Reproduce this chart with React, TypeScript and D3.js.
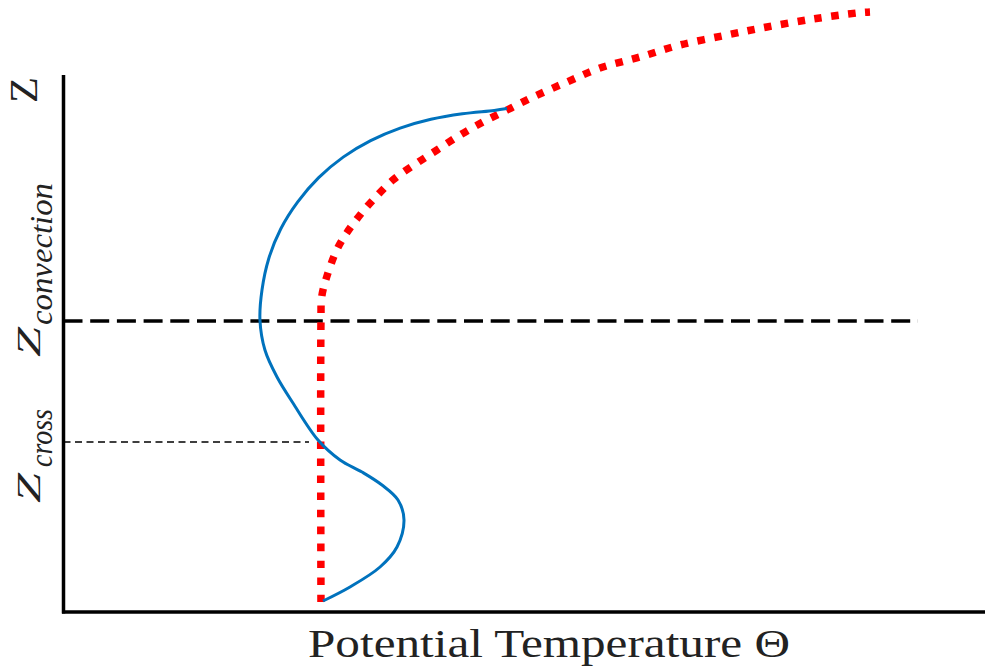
import React from "react";
import * as d3 from "d3";

// Environment / reference profile (red dotted): potential temperature vs height
const redTheta = [27.94, 27.94, 28.02, 28.56, 29.65, 30.73, 32.18, 33.59, 35.76, 38.36, 40.53, 43.03, 45.52, 48.13, 50.95, 54.64, 58.22, 62.56, 66.9, 72.0, 76.34, 81.33, 86.11, 87.52];
const redZ = [1.86, 54.19, 58.66, 62.38, 67.41, 70.58, 73.93, 76.72, 80.45, 83.61, 86.03, 88.83, 91.25, 93.48, 95.9, 98.7, 101.3, 103.35, 105.59, 107.45, 108.94, 110.43, 111.55, 111.73];

// Profile (blue solid)
const blueTheta = [28.16, 31.09, 34.35, 36.19, 36.95, 36.3, 34.56, 32.39, 30.01, 27.62, 24.9, 23.17, 21.86, 21.32, 21.54, 22.27, 23.57, 25.42, 27.69, 30.35, 33.33, 36.53, 39.87, 43.29, 46.74, 48.13];
const blueZ = [2.05, 4.66, 8.38, 12.1, 17.13, 20.86, 23.65, 26.07, 28.31, 32.03, 38.92, 43.76, 48.79, 54.38, 59.96, 65.79, 71.32, 76.37, 80.88, 84.71, 87.78, 90.11, 91.75, 92.79, 93.41, 93.76];

// Reference levels
const zConvection = 54.19;
const zCross = 31.66;
const convectionLineEnd = 92.73;
const crossLineEnd = 26.64;

const xLabel = "Potential Temperature Θ";

export default function App() {
  const W = 986, H = 670;
  const x = d3.scaleLinear().domain([0, 100]).range([63.5, 985]);
  const y = d3.scaleLinear().domain([0, 100]).range([612, 75]);

  const line = d3
    .line<[number, number]>()
    .x((d) => x(d[0]))
    .y((d) => y(d[1]))
    .curve(d3.curveCatmullRom.alpha(0.5));

  const redPts: [number, number][] = redTheta.map((t, i) => [t, redZ[i]]);
  const bluePts: [number, number][] = blueTheta.map((t, i) => [t, blueZ[i]]);

  const serif = "Liberation Serif";
  const serifStyle = { fontFamily: serif };

  return (
    <svg
      width={W}
      height={H}
      viewBox={`0 0 ${W} ${H}`}
      style={{ position: "absolute", left: 0, top: 0, background: "#fff" }}
    >
      {/* dashed reference levels */}
      <line
        x1={x(0)}
        x2={x(convectionLineEnd)}
        y1={y(zConvection)}
        y2={y(zConvection)}
        stroke="#000"
        strokeWidth={3.5}
        strokeDasharray="19 7.7"
      />
      <line
        x1={x(0)}
        x2={x(crossLineEnd)}
        y1={y(zCross)}
        y2={y(zCross)}
        stroke="#000"
        strokeWidth={1.6}
        strokeDasharray="7 4.5"
      />

      {/* red dotted profile */}
      <path
        d={line(redPts) || ""}
        fill="none"
        stroke="#ff0000"
        strokeWidth={7.5}
        strokeDasharray="7.5 9.5"
      />

      {/* blue profile */}
      <path d={line(bluePts) || ""} fill="none" stroke="#0072BD" strokeWidth={3} />

      {/* axes */}
      <line x1={x(0)} x2={x(0)} y1={75} y2={y(0) + 1.5} stroke="#000" strokeWidth={3.5} />
      <line x1={x(0) - 1.5} x2={x(100)} y1={y(0)} y2={y(0)} stroke="#000" strokeWidth={3.5} />

      {/* x label */}
      <text
        x={308}
        y={657}
        style={serifStyle}
        fontSize={40}
        fill="#222"
        textLength={482}
        lengthAdjust="spacingAndGlyphs"
      >
        {xLabel}
      </text>

      {/* y labels (rotated) */}
      <text
        transform="translate(37,103) rotate(-90)"
        style={serifStyle}
        fontSize={41}
        fill="#222"
        textLength={26}
        lengthAdjust="spacingAndGlyphs"
      >
        Z
      </text>

      <g transform="translate(40,357) rotate(-90)" fill="#222" fontStyle="italic">
        <text x={0} y={0} style={serifStyle} fontSize={34} textLength={30} lengthAdjust="spacingAndGlyphs">
          Z
        </text>
        <text x={32} y={12} style={serifStyle} fontSize={32} textLength={142} lengthAdjust="spacingAndGlyphs">
          convection
        </text>
      </g>

      <g transform="translate(40,503) rotate(-90)" fill="#222" fontStyle="italic">
        <text x={0} y={0} style={serifStyle} fontSize={34} textLength={30} lengthAdjust="spacingAndGlyphs">
          Z
        </text>
        <text x={36} y={12} style={serifStyle} fontSize={32} textLength={58} lengthAdjust="spacingAndGlyphs">
          cross
        </text>
      </g>
    </svg>
  );
}
